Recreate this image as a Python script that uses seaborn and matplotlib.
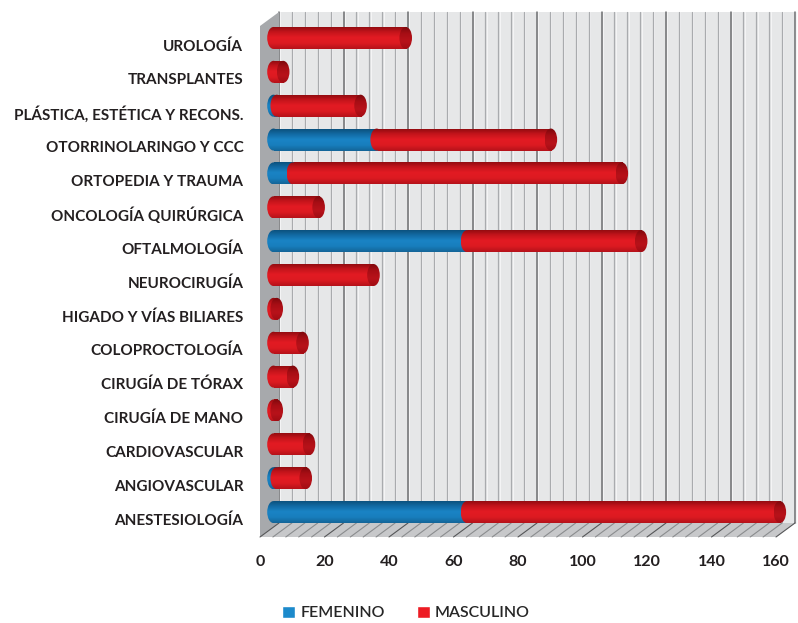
import seaborn as sns
import matplotlib.pyplot as plt
import matplotlib.transforms as mtransforms
from matplotlib.colors import LinearSegmentedColormap
from matplotlib.patches import Ellipse, Polygon, Rectangle, Patch
import numpy as np
import pandas as pd

# Datos
especialidades = ['UROLOGÍA', 'TRANSPLANTES', 'PLÁSTICA, ESTÉTICA Y RECONS.',
                  'OTORRINOLARINGO Y CCC', 'ORTOPEDIA Y TRAUMA', 'ONCOLOGÍA QUIRÚRGICA',
                  'OFTALMOLOGÍA', 'NEUROCIRUGÍA', 'HIGADO Y VÍAS BILIARES',
                  'COLOPROCTOLOGÍA', 'CIRUGÍA DE TÓRAX', 'CIRUGÍA DE MANO',
                  'CARDIOVASCULAR', 'ANGIOVASCULAR', 'ANESTESIOLOGÍA']
femenino = [0, 0, 1, 32, 6, 0, 60, 0, 0, 0, 0, 0, 0, 1, 60]
masculino = [41, 3, 26, 54, 102, 14, 54, 31, 1, 9, 6, 1, 11, 9, 97]
xticks = [0, 20, 40, 60, 80, 100, 120, 140, 160]

df = pd.DataFrame({'especialidad': especialidades,
                   'femenino': femenino,
                   'masculino': masculino})
df['total'] = df['femenino'] + df['masculino']

ROJO = '#ed1c24'
AZUL = '#1c8acb'
rojo_cmap = LinearSegmentedColormap.from_list(
    'rojo', ['#8a0a0f', '#c3141b', '#e31b23', '#dc1a21', '#b5121a'])
azul_cmap = LinearSegmentedColormap.from_list(
    'azul', ['#0b4d77', '#1269a2', '#1a84c5', '#187ebd', '#136598'])
tapa_cmap = LinearSegmentedColormap.from_list(
    'tapa', ['#7a080c', '#a80e15', '#b8121a', '#a10d14'])

sns.set_theme(style='white')
plt.rcParams['font.family'] = ['Lato', 'DejaVu Sans']

fig = plt.figure(figsize=(7.98, 6.23), dpi=100)
ax = fig.add_axes([260 / 798, 86 / 623, 516 / 798, 511 / 623])
ax.set_facecolor('none')

# desplazamientos "3D" (pixeles)
def shift(dx, dy):
    return mtransforms.ScaledTranslation(dx / 100, dy / 100, fig.dpi_scale_trans)

fondo = shift(19, 14)
barra = shift(13.5, 7)
dxa, dya = 19 / 516, 14 / 511

# barras (primero, para recuperar sus rectangulos)
n = len(df)
sns.barplot(data=df, x='total', y='especialidad', color=ROJO, saturation=1,
            width=0.65, orient='h', ax=ax, zorder=2)
rojas = list(ax.patches[:n])
sns.barplot(data=df, x='femenino', y='especialidad', color=AZUL, saturation=1,
            width=0.65, orient='h', ax=ax, zorder=3)
azules = list(ax.patches[n:2 * n])

# pared del fondo
ax.add_patch(Rectangle((0, 0), 1, 1, transform=ax.transAxes + fondo,
                       facecolor='#e6e7e8', edgecolor='none', zorder=0, clip_on=False))
for g in np.arange(0, 161, 4):
    mayor = g % 20 == 0
    ax.plot([g, g], [0, 1], transform=ax.get_xaxis_transform() + fondo,
            color='#6d6e71' if mayor else '#a9abae', lw=1.1 if mayor else 0.9,
            zorder=0.2, clip_on=False)
    ax.plot([g, g], [0, 1], transform=ax.get_xaxis_transform() + fondo + shift(1.3, 0),
            color='#f4f4f5', lw=0.8, zorder=0.1, clip_on=False)
# pared lateral y piso
ax.add_patch(Polygon([(0, 0), (0, 1), (dxa, 1 + dya), (dxa, dya)], closed=True,
                     transform=ax.transAxes, facecolor='#a7a9ac', edgecolor='none',
                     zorder=0.5, clip_on=False))
ax.add_patch(Polygon([(0, 0), (1, 0), (1 + dxa, dya), (dxa, dya)], closed=True,
                     transform=ax.transAxes, facecolor='#c7c8ca', edgecolor='none',
                     zorder=0.5, clip_on=False))
for g in np.arange(0, 161, 4):
    ax.plot([g, g + 19 / 3.225], [0, dya], transform=ax.get_xaxis_transform(),
            color='#555658' if g % 20 == 0 else '#8a8c8e', lw=0.8, zorder=0.6,
            clip_on=False)

tapa_w = 3.9


def sombrear(patch, cmap, z):
    x0, y0 = patch.get_x(), patch.get_y()
    w, h = patch.get_width(), patch.get_height()
    grad = np.linspace(0, 1, 64).reshape(-1, 1)
    im = ax.imshow(grad, cmap=cmap, aspect='auto', origin='upper',
                   extent=(x0, x0 + w, y0 + h, y0), zorder=z, interpolation='bilinear')
    im.set_transform(ax.transData + barra)
    im.set_clip_box(fig.bbox)
    im.set_clip_path(patch)


def elipse(cx, cy, h, cmap, z):
    e = Ellipse((cx, cy), tapa_w, h, transform=ax.transData + barra,
                facecolor='none', edgecolor='none', zorder=z, clip_on=False)
    ax.add_patch(e)
    grad = np.linspace(0, 1, 64).reshape(-1, 1)
    im = ax.imshow(grad, cmap=cmap, aspect='auto', origin='upper',
                   extent=(cx - tapa_w / 2, cx + tapa_w / 2, cy + h / 2, cy - h / 2),
                   zorder=z, interpolation='bilinear')
    im.set_transform(ax.transData + barra)
    im.set_clip_box(fig.bbox)
    im.set_clip_path(e)


for i, (pr, pa) in enumerate(zip(rojas, azules)):
    h = pr.get_height()
    cy = pr.get_y() + h / 2
    for p in (pr, pa):
        p.set_transform(ax.transData + barra)
        p.set_clip_on(False)
        p.set_edgecolor('none')
    sombrear(pr, rojo_cmap, 2.1)
    fem = pa.get_width()
    if fem > 0:
        sombrear(pa, azul_cmap, 3.1)
        elipse(0, cy, h, azul_cmap, 3.2)
        elipse(fem, cy, h, rojo_cmap, 3.3)
    else:
        elipse(0, cy, h, rojo_cmap, 2.2)
    elipse(pr.get_width(), cy, h, tapa_cmap, 3.4)

ax.set_xlim(0, 160)
ax.set_ylim(14.53, -0.56)
ax.set_xticks(xticks)
ax.set_xticklabels([str(t) for t in xticks])
ax.set_yticks(range(n))
ax.set_yticklabels(especialidades)
ax.set_xlabel('')
ax.set_ylabel('')
ax.tick_params(axis='x', length=0, pad=13, labelsize=11.5, labelcolor='#231f20')
ax.tick_params(axis='y', length=0, pad=12, labelsize=11, labelcolor='#231f20')
for lab in ax.get_yticklabels():
    lab.set_fontweight('bold')
for lab in ax.get_xticklabels():
    lab.set_fontweight('bold')
for s in ax.spines.values():
    s.set_visible(False)
ax.grid(False)

handles = [Patch(facecolor=AZUL, label='FEMENINO'),
           Patch(facecolor=ROJO, label='MASCULINO')]
fig.legend(handles=handles, loc='center', bbox_to_anchor=(406 / 798, 1 - 613 / 623),
           ncol=2, frameon=False, handlelength=0.8, handleheight=0.8,
           handletextpad=0.35, columnspacing=2.0,
           prop={'size': 11.5, 'weight': 'semibold'})

fig.savefig('out.png', dpi=100)
